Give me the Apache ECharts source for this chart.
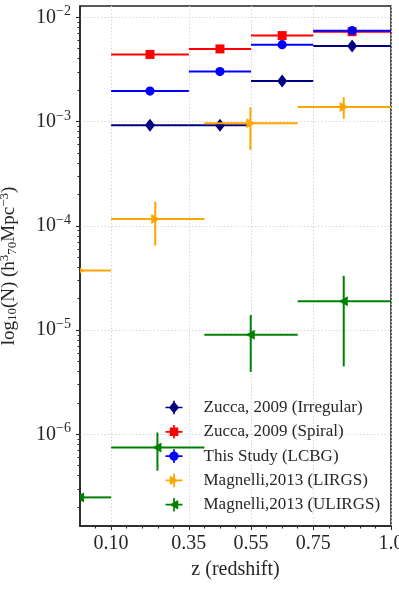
<!DOCTYPE html>
<html>
<head>
<meta charset="utf-8">
<script src="https://cdn.jsdelivr.net/npm/echarts@6/dist/echarts.min.js"></script>
<style>
  html, body { margin: 0; padding: 0; background: #fff; }
  #main { width: 399px; height: 598px; }
</style>
</head>
<body>
<div id="main"></div>
<script>
var myChart = echarts.init(document.getElementById('main'));

// x ticks (redshift)
var xMajor = [0.10, 0.35, 0.55, 0.75, 1.0];
var xMajorLabels = ['0.10', '0.35', '0.55', '0.75', '1.0'];
var xMinor = [0.05, 0.15, 0.2, 0.25, 0.3, 0.4, 0.45, 0.5, 0.6, 0.65, 0.7, 0.8, 0.85, 0.9, 0.95];
// y ticks (decade exponents)
var yMajorExp = [-6, -5, -4, -3, -2];

// Zucca 2009 bins
var zuccaLo = [0.10, 0.35, 0.55, 0.75];
var zuccaHi = [0.35, 0.55, 0.75, 1.00];
var zuccaZ = [0.225, 0.45, 0.65, 0.875];
var irregular = [9.2e-4, 9.2e-4, 2.45e-3, 5.3e-3];
var spiral = [4.4e-3, 4.97e-3, 6.67e-3, 7.27e-3];
var lcbg = [1.96e-3, 3.01e-3, 5.46e-3, 7.44e-3];

// Magnelli 2013 bins
var magLo = [0.0, 0.1, 0.4, 0.7];
var magHi = [0.1, 0.4, 0.7, 1.0];
var lirgZ = [0.0, 0.242, 0.548, 0.848];
var lirg = [3.72e-5, 1.16e-4, 9.64e-4, 1.38e-3];
var lirgErrLo = [null, 6.45e-5, 5.35e-4, 1.06e-3];
var lirgErrHi = [null, 1.7e-4, 1.37e-3, 1.71e-3];
var ulirgZ = [0.0, 0.249, 0.549, 0.848];
var ulirg = [2.48e-7, 7.46e-7, 9.0e-6, 1.89e-5];
var ulirgErrLo = [null, 4.47e-7, 3.97e-6, 4.47e-6];
var ulirgErrHi = [null, 1.04e-6, 1.39e-5, 3.31e-5];

var yMin = -6.88, yMax = -1.892;
var yMinor = [];
for (var n = -7; n <= -2; n++) {
    for (var k = 2; k <= 9; k++) {
        var v = n + Math.log10(k);
        if (v > yMin && v < yMax) yMinor.push(v);
    }
}

var serif = '"Liberation Serif", "DejaVu Serif", serif';
var textCol = '#262626';
var gridLine = { show: true, lineStyle: { color: '#d6d6d6', type: [1.5, 2], width: 1 } };

function markerShape(kind, x, y, color) {
    var style = { fill: color };
    if (kind === 'diamond') {
        return { type: 'polygon', shape: { points: [[x, y - 6.5], [x + 5, y], [x, y + 6.5], [x - 5, y]] }, style: style };
    } else if (kind === 'rect') {
        return { type: 'rect', shape: { x: x - 4.5, y: y - 4.5, width: 9, height: 9 }, style: style };
    } else if (kind === 'circle') {
        return { type: 'circle', shape: { cx: x, cy: y, r: 4.6 }, style: style };
    } else if (kind === 'right') {
        return { type: 'polygon', shape: { points: [[x - 4, y - 5], [x + 5, y], [x - 4, y + 5]] }, style: style };
    }
    return { type: 'polygon', shape: { points: [[x + 4, y - 5], [x - 5, y], [x + 4, y + 5]] }, style: style };
}

function errSeries(name, color, kind, zs, lo, hi, vals, eLo, eHi) {
    var data = zs.map(function (z, i) { return [z, Math.log10(vals[i])]; });
    return {
        name: name,
        type: 'custom',
        clip: true,
        itemStyle: { color: color },
        data: data,
        renderItem: function (params, api) {
            var i = params.dataIndex;
            var yv = Math.log10(vals[i]);
            var p = api.coord([zs[i], yv]);
            var a = api.coord([lo[i], yv]);
            var b = api.coord([hi[i], yv]);
            var lineStyle = { stroke: color, lineWidth: 2 };
            var children = [{ type: 'line', shape: { x1: a[0], y1: a[1], x2: b[0], y2: b[1] }, style: lineStyle }];
            if (eLo && eLo[i] != null) {
                var c = api.coord([zs[i], Math.log10(eLo[i])]);
                var d = api.coord([zs[i], Math.log10(eHi[i])]);
                children.push({ type: 'line', shape: { x1: c[0], y1: c[1], x2: d[0], y2: d[1] }, style: lineStyle });
            }
            children.push(markerShape(kind, p[0], p[1], color));
            return { type: 'group', children: children };
        }
    };
}

var cross = 'M0 9 H20 V11 H0 Z M9 2 H11 V18 H9 Z ';
var icons = {
    diamond: 'path://' + cross + 'M10 3 L16 10 L10 17 L4 10 Z',
    rect: 'path://' + cross + 'M5 5 H15 V15 H5 Z',
    circle: 'path://' + cross + 'M4.5 10 A5.5 5.5 0 1 1 15.5 10 A5.5 5.5 0 1 1 4.5 10 Z',
    right: 'path://' + cross + 'M5 4.5 L15.5 10 L5 15.5 Z',
    left: 'path://' + cross + 'M15 4.5 L15 15.5 L4.5 10 Z'
};

var names = ['Zucca, 2009 (Irregular)', 'Zucca, 2009 (Spiral)', 'This Study (LCBG)', 'Magnelli,2013 (LIRGS)', 'Magnelli,2013 (ULIRGS)'];
var colors = ['#000080', '#ff0000', '#0000ff', '#ffa500', '#008000'];
var kinds = ['diamond', 'rect', 'circle', 'right', 'left'];

var option = {
    animation: false,
    backgroundColor: '#fff',
    grid: {
        left: 80, right: 8, top: 6, bottom: 72, show: true, borderColor: '#222', borderWidth: 1.5,
        outerBoundsMode: 'none', containLabel: false
    },
    legend: {
        orient: 'vertical',
        left: 160.5,
        top: 394,
        itemWidth: 17,
        itemHeight: 17,
        itemGap: 7.3,
        textStyle: { fontFamily: serif, fontSize: 17, color: textCol, lineHeight: 17, padding: [0, 0, 0, 16] },
        data: names.map(function (n, i) {
            return { name: n, icon: icons[kinds[i]], itemStyle: { color: colors[i] } };
        })
    },
    xAxis: [{
        type: 'value', min: 0, max: 1.0,
        name: 'z (redshift)', nameLocation: 'middle', nameGap: 34,
        nameTextStyle: { fontFamily: serif, fontSize: 20, color: textCol },
        axisLine: { show: true, lineStyle: { color: '#222', width: 1.5 } },
        axisTick: { show: true, length: 4, customValues: xMajor, lineStyle: { color: '#222' } },
        axisLabel: {
            customValues: xMajor, margin: 8, fontFamily: serif, fontSize: 20, color: textCol,
            formatter: function (v) {
                for (var i = 0; i < xMajor.length; i++) if (Math.abs(xMajor[i] - v) < 1e-6) return xMajorLabels[i];
                return '';
            }
        },
        splitLine: gridLine
    }, {
        type: 'value', min: 0, max: 1.0, position: 'bottom',
        axisLine: { show: false },
        axisTick: { show: true, length: 2.5, customValues: xMinor, lineStyle: { color: '#222' } },
        axisLabel: { show: false },
        splitLine: { show: false }
    }],
    yAxis: [{
        type: 'value', min: yMin, max: yMax,
        name: 'log{sub|10}(N) (h{sup|3}{sub|70}Mpc{sup|\u22123})',
        nameLocation: 'middle', nameGap: 60, nameRotate: 90,
        nameTextStyle: {
            fontFamily: serif, fontSize: 19, color: textCol,
            rich: {
                sub: { fontFamily: serif, fontSize: 13, color: textCol, padding: [8, 0, 0, 0] },
                sup: { fontFamily: serif, fontSize: 13, color: textCol, padding: [0, 0, 9, 0] }
            }
        },
        axisLine: { show: true, lineStyle: { color: '#222', width: 1.5 } },
        axisTick: { show: true, length: 4, customValues: yMajorExp, lineStyle: { color: '#222' } },
        axisLabel: {
            customValues: yMajorExp, margin: 9,
            formatter: function (v) { return '{b|10}{s|\u2212' + Math.round(-v) + '}'; },
            rich: {
                b: { fontFamily: serif, fontSize: 20, color: textCol },
                s: { fontFamily: serif, fontSize: 14, color: textCol, padding: [0, 0, 11, 0] }
            }
        },
        splitLine: gridLine
    }, {
        type: 'value', min: yMin, max: yMax, position: 'left',
        axisLine: { show: false },
        axisTick: { show: true, length: 2.5, customValues: yMinor, lineStyle: { color: '#222' } },
        axisLabel: { show: false },
        splitLine: { show: false }
    }],
    series: [
        errSeries(names[0], colors[0], kinds[0], zuccaZ, zuccaLo, zuccaHi, irregular),
        errSeries(names[1], colors[1], kinds[1], zuccaZ, zuccaLo, zuccaHi, spiral),
        errSeries(names[2], colors[2], kinds[2], zuccaZ, zuccaLo, zuccaHi, lcbg),
        errSeries(names[3], colors[3], kinds[3], lirgZ, magLo, magHi, lirg, lirgErrLo, lirgErrHi),
        errSeries(names[4], colors[4], kinds[4], ulirgZ, magLo, magHi, ulirg, ulirgErrLo, ulirgErrHi)
    ]
};
myChart.setOption(option);
</script>
</body>
</html>
